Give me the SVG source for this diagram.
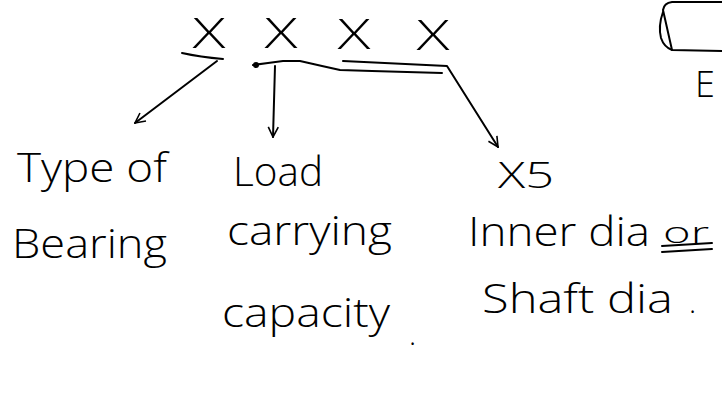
<svg xmlns="http://www.w3.org/2000/svg" width="722" height="394" viewBox="0 0 722 394">
  <style>
    .hw { font-family: "Open Sans", "Liberation Sans", sans-serif; font-weight: 300; fill: #000; }
    .ln { fill: none; stroke: #000; stroke-width: 2; stroke-linecap: round; stroke-linejoin: round; }
  </style>
  <defs>
    <marker id="open" viewBox="0 0 12 12" refX="11" refY="6" markerWidth="12" markerHeight="12" markerUnits="userSpaceOnUse" orient="auto">
      <path d="M1,1 L11,6 L1,11" fill="none" stroke="#000" stroke-width="1.6"/>
    </marker>
  </defs>
  <rect width="722" height="394" fill="#fff"/>

  <g id="code-xxxx">
    <text class="hw" x="209" y="48" font-size="42" text-anchor="middle" textLength="33" lengthAdjust="spacingAndGlyphs">X</text>
    <text class="hw" x="281" y="48" font-size="42" text-anchor="middle" textLength="33" lengthAdjust="spacingAndGlyphs">X</text>
    <text class="hw" x="354" y="49" font-size="42" text-anchor="middle" textLength="33" lengthAdjust="spacingAndGlyphs">X</text>
    <text class="hw" x="433" y="50" font-size="42" text-anchor="middle" textLength="33" lengthAdjust="spacingAndGlyphs">X</text>
  </g>

  <g id="box-e">
    <path class="ln" d="M722,2 L672,2 Q664,3 663,10 L672,50 L722,51"/>
    <path class="ln" d="M663,12 Q658,26 661,38 Q664,47 672,50"/>
    <text class="hw" x="695" y="97" font-size="36">E</text>
  </g>

  <g id="connectors">
    <path class="ln" d="M182,53 Q200,57 223,59"/>
    <path class="ln" d="M217,61 L135,123" marker-end="url(#open)"/>
    <path class="ln" d="M253,65 L268,63 L283,61 L300,61 L322,66 L340,70 L372,71 L442,73" stroke-width="2.4"/>
    <circle cx="256" cy="65" r="3" fill="#000"/>
    <path class="ln" d="M275,66 L273,137" marker-end="url(#open)"/>
    <path class="ln" d="M343,61 L447,66 L498,147" marker-end="url(#open)"/>
  </g>

  <g id="node-type">
    <text class="hw" x="17" y="182" font-size="40" textLength="150" lengthAdjust="spacingAndGlyphs">Type of</text>
    <text class="hw" x="12" y="258" font-size="40" textLength="155" lengthAdjust="spacingAndGlyphs">Bearing</text>
  </g>

  <g id="node-load">
    <text class="hw" x="233" y="186" font-size="40" textLength="90" lengthAdjust="spacingAndGlyphs">Load</text>
    <text class="hw" x="227" y="245" font-size="40" textLength="165" lengthAdjust="spacingAndGlyphs">carrying</text>
    <text class="hw" x="222" y="327" font-size="40" textLength="168" lengthAdjust="spacingAndGlyphs">capacity</text>
    <text class="hw" x="409" y="345" font-size="30">.</text>
  </g>

  <g id="node-dia">
    <text class="hw" x="498" y="188" font-size="36" textLength="56" lengthAdjust="spacingAndGlyphs">X5</text>
    <text class="hw" x="468" y="246" font-size="40" textLength="182" lengthAdjust="spacingAndGlyphs">Inner dia</text>
    <text class="hw" x="663" y="243" font-size="30" textLength="46" lengthAdjust="spacingAndGlyphs">or</text>
    <path class="ln" d="M662,246 L712,243 M662,252 L712,249" stroke-width="1.6"/>
    <text class="hw" x="482" y="313" font-size="40" textLength="191" lengthAdjust="spacingAndGlyphs">Shaft dia</text>
    <text class="hw" x="689" y="313" font-size="30">.</text>
  </g>
</svg>
